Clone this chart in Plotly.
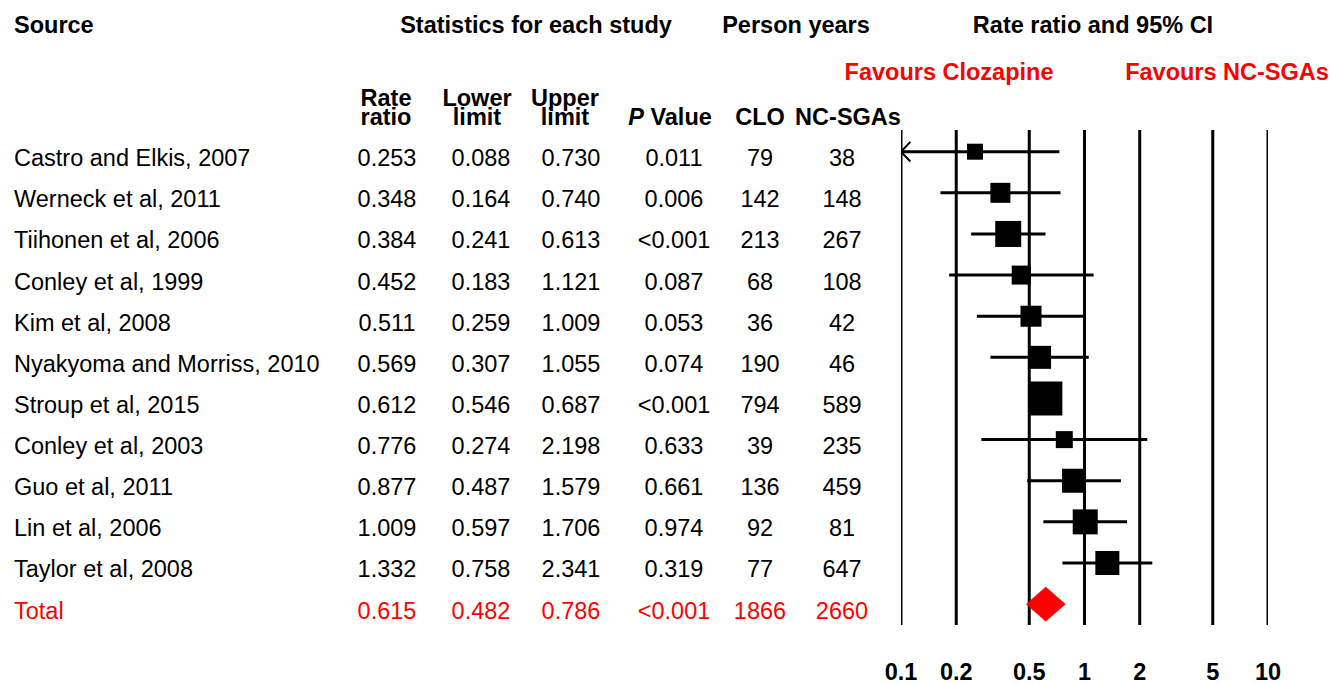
import plotly.graph_objects as go

# ---------------- data ----------------
sources = ["Castro and Elkis, 2007", "Werneck et al, 2011", "Tiihonen et al, 2006",
           "Conley et al, 1999", "Kim et al, 2008", "Nyakyoma and Morriss, 2010",
           "Stroup et al, 2015", "Conley et al, 2003", "Guo et al, 2011",
           "Lin et al, 2006", "Taylor et al, 2008"]
rate_ratio = [0.253, 0.348, 0.384, 0.452, 0.511, 0.569, 0.612, 0.776, 0.877, 1.009, 1.332]
lower_limit = [0.088, 0.164, 0.241, 0.183, 0.259, 0.307, 0.546, 0.274, 0.487, 0.597, 0.758]
upper_limit = [0.730, 0.740, 0.613, 1.121, 1.009, 1.055, 0.687, 2.198, 1.579, 1.706, 2.341]
p_value = ["0.011", "0.006", "<0.001", "0.087", "0.053", "0.074", "<0.001",
           "0.633", "0.661", "0.974", "0.319"]
py_clo = [79, 142, 213, 68, 36, 190, 794, 39, 136, 92, 77]
py_ncsga = [38, 148, 267, 108, 42, 46, 589, 235, 459, 81, 647]
weight_box = [16, 20, 26, 19, 21, 23, 34, 17, 24, 25, 24]   # relative study weight (box size)

total_label = "Total"
total_rr = 0.615
total_lower = 0.482
total_upper = 0.786
total_p = "<0.001"
total_clo = 1866
total_ncsga = 2660

tick_vals = [0.1, 0.2, 0.5, 1, 2, 5, 10]
tick_text = ["0.1", "0.2", "0.5", "1", "2", "5", "10"]

# ---------------- layout helpers ----------------
W, H = 1332, 684
ROW0, ROWH = 151.7, 41.13
X_MIN = 0.1
TXT_SHIFT = 3.0  # px, vertical correction for text baseline


def yidx(px):
    return (px + TXT_SHIFT - ROW0) / ROWH


TEXT_DY = (5.6 + TXT_SHIFT) / ROWH
FONT = "Liberation Sans, Arial, Helvetica, sans-serif"
FS = 23.5
RED = "#FF0000"

n = len(sources)
rows = list(range(n))
total_row = n

fig = go.Figure()


def text_trace(xs, ys, texts, color="black", bold=False, pos="middle center", size=FS):
    fig.add_trace(go.Scatter(
        x=xs, y=ys, text=texts, mode="text", textposition=pos,
        textfont=dict(family=FONT, size=size, color=color,
                      weight="bold" if bold else "normal"),
        xaxis="x", yaxis="y", cliponaxis=False, hoverinfo="skip", showlegend=False))


# table columns (x pixel centers)
col_src = 14
col_rr, col_ll, col_ul, col_p, col_clo, col_nc = 387, 481, 571, 674, 760, 842
ty = [r + TEXT_DY for r in rows]
text_trace([col_src] * n, ty, sources, pos="middle right")
text_trace([col_rr] * n, ty, [f"{v:.3f}" for v in rate_ratio])
text_trace([col_ll] * n, ty, [f"{v:.3f}" for v in lower_limit])
text_trace([col_ul] * n, ty, [f"{v:.3f}" for v in upper_limit])
text_trace([col_p] * n, ty, p_value)
text_trace([col_clo] * n, ty, [str(v) for v in py_clo])
text_trace([col_nc] * n, ty, [str(v) for v in py_ncsga])

# total row
tty = [total_row + TEXT_DY]
text_trace([col_src], tty, [total_label], color=RED, pos="middle right")
text_trace([col_rr], tty, [f"{total_rr:.3f}"], color=RED)
text_trace([col_ll], tty, [f"{total_lower:.3f}"], color=RED)
text_trace([col_ul], tty, [f"{total_upper:.3f}"], color=RED)
text_trace([col_p], tty, [total_p], color=RED)
text_trace([col_clo], tty, [str(total_clo)], color=RED)
text_trace([col_nc], tty, [str(total_ncsga)], color=RED)

# headers
h1 = yidx(24.5)
text_trace([col_src], [h1], ["Source"], bold=True, pos="middle right")
text_trace([536, 796, 1093], [h1] * 3,
           ["Statistics for each study", "Person years", "Rate ratio and 95% CI"], bold=True)
hf = yidx(71.5)
text_trace([949, 1227], [hf, hf], ["Favours Clozapine", "Favours NC-SGAs"], color=RED, bold=True)
ha = yidx(97)
hb = yidx(116.5)
text_trace([386, 477, 565], [ha] * 3, ["Rate", "Lower", "Upper"], bold=True)
text_trace([386, 477, 565, 670, 760, 848], [hb] * 6,
           ["ratio", "limit", "limit", "<i>P</i> Value", "CLO", "NC-SGAs"], bold=True)

# ---------------- forest plot ----------------
# confidence interval lines (clipped at axis minimum)
cx, cy = [], []
ax, ay = [], []
arrow_dx = 1.124
arrow_dy = 9.8 / ROWH
for i in rows:
    lo = max(lower_limit[i], X_MIN)
    cx += [lo, upper_limit[i], None]
    cy += [i, i, None]
    if lower_limit[i] < X_MIN:
        ax += [X_MIN * arrow_dx, X_MIN, X_MIN * arrow_dx, None]
        ay += [i - arrow_dy, i, i + arrow_dy, None]

fig.add_trace(go.Scatter(x=cx, y=cy, mode="lines", line=dict(color="black", width=3),
                         xaxis="x2", yaxis="y", hoverinfo="skip", showlegend=False))
if ax:
    fig.add_trace(go.Scatter(x=ax, y=ay, mode="lines", line=dict(color="black", width=2),
                             xaxis="x2", yaxis="y", hoverinfo="skip", showlegend=False))
fig.add_trace(go.Scatter(x=rate_ratio, y=rows, mode="markers",
                         marker=dict(symbol="square", size=weight_box, color="black",
                                     opacity=1, line=dict(width=0)),
                         xaxis="x2", yaxis="y", hoverinfo="skip", showlegend=False))

# pooled estimate diamond
dh = 17.2 / ROWH
fig.add_trace(go.Scatter(
    x=[total_lower, total_rr, total_upper, total_rr, total_lower],
    y=[total_row, total_row - dh, total_row, total_row + dh, total_row],
    mode="lines", fill="toself", fillcolor=RED, line=dict(color=RED, width=0.5),
    xaxis="x2", yaxis="y", hoverinfo="skip", showlegend=False))

# vertical reference lines
for v in tick_vals:
    fig.add_shape(type="line", xref="x2", yref="y", x0=v, x1=v,
                  y0=-0.53, y1=total_row + 0.51, line=dict(color="black", width=3),
                  layer="below")

fig.update_layout(
    width=W, height=H, margin=dict(l=0, r=0, t=0, b=0, pad=0, autoexpand=False),
    paper_bgcolor="white", plot_bgcolor="rgba(0,0,0,0)",
    xaxis=dict(range=[0, W], domain=[0, 1], visible=False, fixedrange=True),
    xaxis2=dict(type="log", range=[-1, 1], domain=[901 / W, 1268 / W],
                anchor="free", position=(H - 655) / H,
                tickvals=tick_vals, ticktext=tick_text, ticks="",
                showgrid=False, zeroline=False, showline=False, automargin=False,
                tickfont=dict(family=FONT, size=FS, color="black", weight="bold")),
    yaxis=dict(range=[(H - ROW0) / ROWH, -ROW0 / ROWH], domain=[0, 1],
               visible=False, fixedrange=True),
    showlegend=False,
)

fig.write_html("out.html")
